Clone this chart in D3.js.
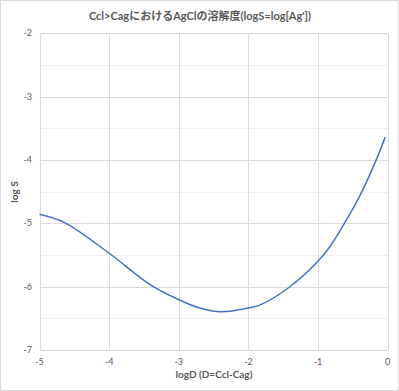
<!DOCTYPE html>
<html><head><meta charset="utf-8">
<script src="https://cdn.jsdelivr.net/npm/d3@7"></script>
<style>body{margin:0;background:#fff}svg{display:block}text{font-family:Lato,"Open Sans","Noto Sans CJK JP",sans-serif;fill:#595959}</style>
</head><body><svg id="c" width="399" height="391"></svg>
<script>
const xValues = [-5, -4.64, -4, -3.4, -3, -2.7, -2.4, -2.0, -1.83, -1.4, -0.92, -0.62, -0.37, -0.165, -0.036];
const yValues = [-4.86, -4.99, -5.475, -5.98, -6.21, -6.34, -6.40, -6.34, -6.29, -6.0, -5.5, -5.0, -4.5, -4.0, -3.64];
const xTicks = [-5, -4, -3, -2, -1, 0];
const yTicks = [-2, -3, -4, -5, -6, -7];
const yMinorTicks = [-2.5, -3.5, -4.5, -5.5, -6.5];
const title = "Ccl>CagにおけるAgClの溶解度(logS=log[Ag'])";
const xTitle = "logD (D=Ccl-Cag)";
const yTitle = "log S";

const W = 399, H = 391;
const svg = d3.select("#c");
svg.append("rect").attr("x",0.5).attr("y",0.5).attr("width",W-1).attr("height",H-1).attr("fill","#fff").attr("stroke","#d9d9d9");
const x = d3.scaleLinear().domain([-5,0]).range([39.5,387.7]);
const y = d3.scaleLinear().domain([-7,-2]).range([349.8,33.3]);

const g = svg.append("g");
g.selectAll(".ym").data(yMinorTicks).join("line")
 .attr("x1",x(-5)).attr("x2",x(0)).attr("y1",d=>Math.round(y(d))+0.5).attr("y2",d=>Math.round(y(d))+0.5)
 .attr("stroke","#f0f0f0");
g.selectAll(".yM").data(yTicks).join("line")
 .attr("x1",x(-5)).attr("x2",x(0)).attr("y1",d=>Math.round(y(d))+0.5).attr("y2",d=>Math.round(y(d))+0.5)
 .attr("stroke","#d9d9d9");
g.selectAll(".xM").data(xTicks).join("line")
 .attr("y1",y(-2)).attr("y2",y(-7)).attr("x1",d=>Math.round(x(d))+0.5).attr("x2",d=>Math.round(x(d))+0.5)
 .attr("stroke","#d9d9d9");

g.selectAll(".yl").data(yTicks).join("text")
 .attr("x",32).attr("y",d=>y(d)).attr("dy","0.35em").attr("text-anchor","end").attr("font-size",9).text(d=>d);
g.selectAll(".xl").data(xTicks).join("text")
 .attr("x",d=>x(d)).attr("y",362).attr("dy","0.35em").attr("text-anchor","middle").attr("font-size",9).text(d=>d);

const pts = xValues.map((v,i)=>[v,yValues[i]]);
svg.append("path").datum(pts)
 .attr("d", d3.line().x(d=>x(d[0])).y(d=>y(d[1])).curve(d3.curveCatmullRom.alpha(0.5)))
 .attr("fill","none").attr("stroke","#4472C4").attr("stroke-width",1.5);

svg.append("text").attr("x",200).attr("y",20).attr("text-anchor","middle").attr("font-size",11).attr("font-weight","bold").text(title);
svg.append("text").attr("x",214).attr("y",378).attr("text-anchor","middle").attr("font-size",10).attr("font-weight","bold").text(xTitle);
svg.append("text").attr("transform","translate(18,192) rotate(-90)").attr("text-anchor","middle").attr("font-size",10).attr("font-weight","bold").text(yTitle);
</script></body></html>
